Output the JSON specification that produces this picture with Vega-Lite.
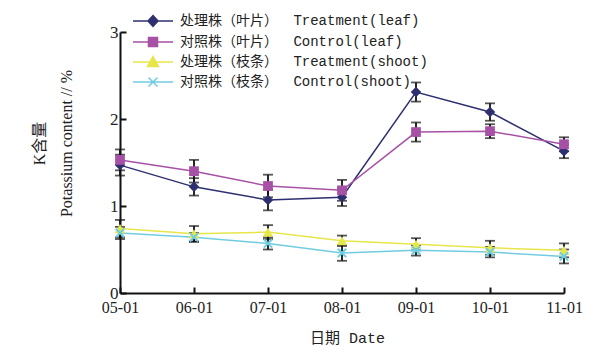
{
  "$schema": "https://vega.github.io/schema/vega-lite/v6.json",
  "width": 444,
  "height": 261,
  "autosize": {"type": "none"},
  "padding": {"left": 120, "top": 32, "right": 44, "bottom": 54},
  "background": "#ffffff",
  "config": {"view": {"stroke": null}},
  "data": {"values": [
    {"date": "05-01", "key": "TL", "series": "处理株（叶片）\u3000 Treatment(leaf)", "value": 1.47, "err": 0.12},
    {"date": "06-01", "key": "TL", "series": "处理株（叶片）\u3000 Treatment(leaf)", "value": 1.22, "err": 0.10},
    {"date": "07-01", "key": "TL", "series": "处理株（叶片）\u3000 Treatment(leaf)", "value": 1.07, "err": 0.12},
    {"date": "08-01", "key": "TL", "series": "处理株（叶片）\u3000 Treatment(leaf)", "value": 1.10, "err": 0.10},
    {"date": "09-01", "key": "TL", "series": "处理株（叶片）\u3000 Treatment(leaf)", "value": 2.31, "err": 0.11},
    {"date": "10-01", "key": "TL", "series": "处理株（叶片）\u3000 Treatment(leaf)", "value": 2.08, "err": 0.10},
    {"date": "11-01", "key": "TL", "series": "处理株（叶片）\u3000 Treatment(leaf)", "value": 1.63, "err": 0.08},
    {"date": "05-01", "key": "CL", "series": "对照株（叶片）\u3000 Control(leaf)", "value": 1.53, "err": 0.12},
    {"date": "06-01", "key": "CL", "series": "对照株（叶片）\u3000 Control(leaf)", "value": 1.40, "err": 0.13},
    {"date": "07-01", "key": "CL", "series": "对照株（叶片）\u3000 Control(leaf)", "value": 1.23, "err": 0.13},
    {"date": "08-01", "key": "CL", "series": "对照株（叶片）\u3000 Control(leaf)", "value": 1.18, "err": 0.12},
    {"date": "09-01", "key": "CL", "series": "对照株（叶片）\u3000 Control(leaf)", "value": 1.85, "err": 0.11},
    {"date": "10-01", "key": "CL", "series": "对照株（叶片）\u3000 Control(leaf)", "value": 1.86, "err": 0.08},
    {"date": "11-01", "key": "CL", "series": "对照株（叶片）\u3000 Control(leaf)", "value": 1.71, "err": 0.08},
    {"date": "05-01", "key": "TS", "series": "处理株（枝条）\u3000 Treatment(shoot)", "value": 0.74, "err": 0.10},
    {"date": "06-01", "key": "TS", "series": "处理株（枝条）\u3000 Treatment(shoot)", "value": 0.68, "err": 0.09},
    {"date": "07-01", "key": "TS", "series": "处理株（枝条）\u3000 Treatment(shoot)", "value": 0.70, "err": 0.08},
    {"date": "08-01", "key": "TS", "series": "处理株（枝条）\u3000 Treatment(shoot)", "value": 0.60, "err": 0.06},
    {"date": "09-01", "key": "TS", "series": "处理株（枝条）\u3000 Treatment(shoot)", "value": 0.56, "err": 0.07},
    {"date": "10-01", "key": "TS", "series": "处理株（枝条）\u3000 Treatment(shoot)", "value": 0.52, "err": 0.08},
    {"date": "11-01", "key": "TS", "series": "处理株（枝条）\u3000 Treatment(shoot)", "value": 0.49, "err": 0.08},
    {"date": "05-01", "key": "CS", "series": "对照株（枝条）\u3000 Control(shoot)", "value": 0.69, "err": 0.07},
    {"date": "06-01", "key": "CS", "series": "对照株（枝条）\u3000 Control(shoot)", "value": 0.64, "err": 0.05},
    {"date": "07-01", "key": "CS", "series": "对照株（枝条）\u3000 Control(shoot)", "value": 0.57, "err": 0.07},
    {"date": "08-01", "key": "CS", "series": "对照株（枝条）\u3000 Control(shoot)", "value": 0.46, "err": 0.09},
    {"date": "09-01", "key": "CS", "series": "对照株（枝条）\u3000 Control(shoot)", "value": 0.49, "err": 0.06},
    {"date": "10-01", "key": "CS", "series": "对照株（枝条）\u3000 Control(shoot)", "value": 0.47, "err": 0.06},
    {"date": "11-01", "key": "CS", "series": "对照株（枝条）\u3000 Control(shoot)", "value": 0.42, "err": 0.08}
  ]},
  "encoding": {
    "x": {
      "field": "date", "type": "ordinal",
      "scale": {"type": "point", "padding": 0},
      "axis": {
        "title": "日期 Date", "labelAngle": 0,
        "labelFont": "Liberation Serif", "labelFontSize": 16, "labelColor": "#222",
        "tickSize": -6, "tickWidth": 2, "tickColor": "#111",
        "domainColor": "#111", "domainWidth": 2, "grid": false, "labelPadding": 12,
        "titleFont": "Liberation Mono, Noto Sans CJK SC", "titleFontSize": 15, "titleFontWeight": "normal", "titleColor": "#222",
        "titleX": 227, "titleY": 44, "titleBaseline": "middle", "titleAlign": "center"
      }
    },
    "y": {
      "field": "value", "type": "quantitative",
      "scale": {"domain": [0, 3], "nice": false, "zero": true},
      "axis": {
        "title": ["K含量", "Potassium content // %"], "values": [0, 1, 2, 3], "format": "d",
        "labelFont": "Liberation Serif", "labelFontSize": 17, "labelColor": "#222",
        "tickSize": -6, "tickWidth": 2, "tickColor": "#111",
        "domainColor": "#111", "domainWidth": 2, "grid": false, "labelPadding": 8,
        "encode": {"labels": {"update": {"dy": {"signal": "datum.value === 0 ? -4 : (datum.value === 3 ? -3 : 0)"}}}},
        "titleFont": "Liberation Serif, Noto Sans CJK SC", "titleFontSize": 16, "titleFontWeight": "normal", "titleColor": "#222",
        "titleAngle": -90, "titleX": -81, "titleY": 111, "titleAlign": "center", "titleBaseline": "middle", "titleLineHeight": 27
      }
    }
  },
  "layer": [
    {
      "mark": {"type": "errorbar", "color": "#111", "thickness": 1.8, "ticks": {"size": 10, "color": "#111", "thickness": 1.8}},
      "encoding": {"yError": {"field": "err"}}
    },
    {
      "mark": {"type": "line", "strokeWidth": 1.5},
      "encoding": {
        "color": {"field": "key", "type": "nominal",
          "scale": {"domain": ["TL", "CL", "TS", "CS"], "range": ["#2d2f70", "#a751a6", "#e6e64a", "#70cde0"]},
          "legend": null}
      }
    },
    {
      "transform": [{"filter": "datum.key === 'TL'"}],
      "mark": {"type": "point", "shape": "diamond", "filled": true, "size": 110, "color": "#2d2f70", "opacity": 1}
    },
    {
      "transform": [{"filter": "datum.key === 'CL'"}],
      "mark": {"type": "point", "shape": "square", "filled": true, "size": 95, "color": "#a751a6", "opacity": 1}
    },
    {
      "transform": [{"filter": "datum.key === 'TS'"}],
      "mark": {"type": "point", "shape": "triangle-up", "filled": true, "size": 110, "color": "#e6e64a", "opacity": 1}
    },
    {
      "transform": [{"filter": "datum.key === 'CS'"}],
      "mark": {"type": "point", "shape": "M-1,-1L1,1M-1,1L1,-1", "filled": false, "size": 70, "strokeWidth": 2, "color": "#70cde0", "opacity": 1}
    },
    {
      "mark": {"type": "point", "filled": true, "opacity": 0},
      "encoding": {
        "fill": {"field": "series", "type": "nominal",
          "scale": {"domain": ["处理株（叶片）\u3000 Treatment(leaf)", "对照株（叶片）\u3000 Control(leaf)", "处理株（枝条）\u3000 Treatment(shoot)", "对照株（枝条）\u3000 Control(shoot)"], "range": ["#2d2f70", "#a751a6", "#e6e64a", "#70cde0"]},
          "legend": {"title": null, "orient": "none", "legendX": 22, "legendY": -22, "symbolSize": 400, "padding": 0,
            "labelFont": "Liberation Mono, Noto Sans CJK SC", "labelFontSize": 14, "labelColor": "#222", "labelOffset": 16, "labelLimit": 400,
            "rowPadding": 1, "symbolStrokeWidth": 1.5, "encode": {"symbols": {"update": {"opacity": {"value": 1}}}}}},
        "stroke": {"field": "series", "type": "nominal",
          "scale": {"domain": ["处理株（叶片）\u3000 Treatment(leaf)", "对照株（叶片）\u3000 Control(leaf)", "处理株（枝条）\u3000 Treatment(shoot)", "对照株（枝条）\u3000 Control(shoot)"], "range": ["#2d2f70", "#a751a6", "#e6e64a", "#70cde0"]},
          "legend": {"title": null, "orient": "none", "legendX": 22, "legendY": -22, "symbolSize": 400, "padding": 0,
            "labelFont": "Liberation Mono, Noto Sans CJK SC", "labelFontSize": 14, "labelColor": "#222", "labelOffset": 16, "labelLimit": 400,
            "rowPadding": 1, "symbolStrokeWidth": 1.5, "encode": {"symbols": {"update": {"opacity": {"value": 1}}}}}},
        "shape": {"field": "series", "type": "nominal",
          "scale": {"domain": ["处理株（叶片）\u3000 Treatment(leaf)", "对照株（叶片）\u3000 Control(leaf)", "处理株（枝条）\u3000 Treatment(shoot)", "对照株（枝条）\u3000 Control(shoot)"],
            "range": ["M-2,0H2M0,-0.55L0.5,0L0,0.55L-0.5,0Z", "M-2,0H2M-0.45,-0.45H0.45V0.45H-0.45Z", "M-2,0H2M0,-0.55L0.55,0.45L-0.55,0.45Z", "M-2,0H2M-0.45,-0.45L0.45,0.45M-0.45,0.45L0.45,-0.45"]},
          "legend": {"title": null, "orient": "none", "legendX": 22, "legendY": -22, "symbolSize": 400, "padding": 0,
            "labelFont": "Liberation Mono, Noto Sans CJK SC", "labelFontSize": 14, "labelColor": "#222", "labelOffset": 16, "labelLimit": 400,
            "rowPadding": 1, "symbolStrokeWidth": 1.5, "encode": {"symbols": {"update": {"opacity": {"value": 1}}}}}}
      }
    }
  ]
}
